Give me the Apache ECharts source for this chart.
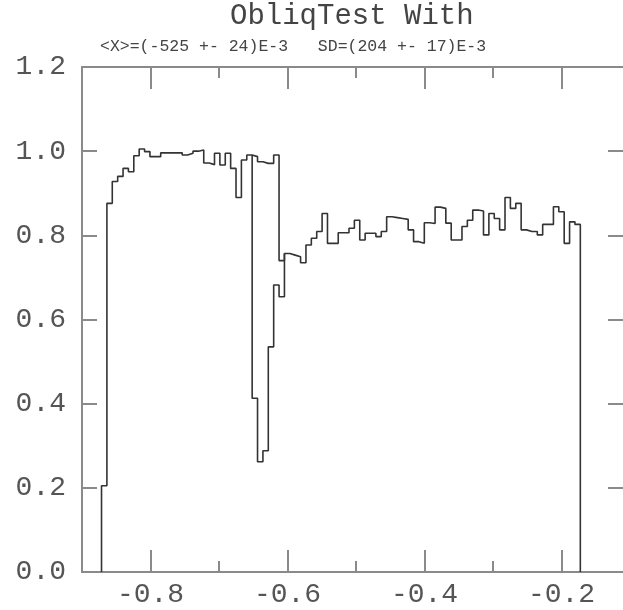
<!DOCTYPE html>
<html>
<head>
<meta charset="utf-8">
<script src="https://cdn.jsdelivr.net/npm/echarts@6/dist/echarts.min.js"></script>
<style>
html,body{margin:0;padding:0;background:#fff;}
#chart{width:623px;height:610px;}
</style>
</head>
<body>
<div id="chart"></div>
<script>
// ---- data ----
const titleText = 'ObliqTest With';
const subtitleText = '<X>=(-525 +- 24)E-3   SD=(204 +- 17)E-3';
const histLow = -0.8715;          // left edge of first bin
const binWidth = 0.007854;        // bin width
const binValues = [
  0.205, 0.876, 0.928, 0.940, 0.959, 0.951, 0.989, 1.005, 0.999, 0.987,
  0.987, 0.996, 0.996, 0.996, 0.996, 0.991, 0.995, 1.000, 1.003, 0.972,
  0.968, 0.995, 0.967, 0.995, 0.959, 0.890, 0.979, 0.991, 0.987, 0.975,
  0.971, 0.971, 0.991, 0.740, 0.757, 0.753, 0.749, 0.735, 0.777, 0.793,
  0.809, 0.852, 0.781, 0.781, 0.806, 0.806, 0.817, 0.836, 0.789, 0.805,
  0.805, 0.797, 0.809, 0.844, 0.842, 0.840, 0.838, 0.813, 0.785, 0.781,
  0.830, 0.828, 0.867, 0.864, 0.829, 0.789, 0.789, 0.821, 0.836, 0.860,
  0.858, 0.801, 0.852, 0.840, 0.813, 0.890, 0.864, 0.876, 0.813, 0.809,
  0.809, 0.801, 0.826, 0.826, 0.868, 0.856, 0.781, 0.832, 0.826
];
const dipFirstBin = 28;
const dipValues = [0.413, 0.262, 0.288, 0.535, 0.682, 0.654];
const xMajorTicks = [-0.8, -0.6, -0.4, -0.2];
const xMinorTicks = [-0.7, -0.5, -0.3];
const xRange = [-0.9, -0.1102];   // right frame sits at the picture's edge
const yRange = [0, 1.2];
const yStep = 0.2;

// ---- build step outlines from bins ----
function edge(k){ return histLow + k * binWidth; }
const mainPts = [[edge(0), 0]];
binValues.forEach((v, k) => { mainPts.push([edge(k), v], [edge(k + 1), v]); });
mainPts.push([edge(binValues.length), 0]);

const dipPts = [[edge(dipFirstBin), binValues[dipFirstBin - 1]]];
dipValues.forEach((v, i) => {
  const k = dipFirstBin + i;
  dipPts.push([edge(k), v], [edge(k + 1), v]);
});
dipPts.push([edge(dipFirstBin + dipValues.length), binValues[dipFirstBin + dipValues.length]]);

const frameColor = '#8a8a8a';
const labelFont = { fontFamily: 'Liberation Mono', fontSize: 28, color: '#555' };

function xAxisDef(pos, ticks, len, showLine, showLabel){
  return {
    type: 'value', position: pos, min: xRange[0], max: xRange[1],
    axisLine: { show: showLine, onZero: false, lineStyle: { color: frameColor, width: 2 } },
    axisTick: { show: true, inside: true, length: len, customValues: ticks,
                lineStyle: { color: frameColor, width: 2 } },
    axisLabel: Object.assign({ show: showLabel, customValues: ticks, margin: 9,
                formatter: v => v.toFixed(1) }, labelFont),
    splitLine: { show: false }
  };
}
function yAxisDef(pos, showLabel, showLine){
  return {
    type: 'value', position: pos, min: yRange[0], max: yRange[1], interval: yStep,
    axisLine: { show: showLine, onZero: false, lineStyle: { color: frameColor, width: 2 } },
    axisTick: { show: true, inside: true, length: 15, lineStyle: { color: frameColor, width: 2 } },
    axisLabel: Object.assign({ show: showLabel, margin: 16, formatter: v => v.toFixed(1) }, labelFont),
    splitLine: { show: false }
  };
}

const chart = echarts.init(document.getElementById('chart'), null, { renderer: 'canvas' });
chart.setOption({
  animation: false,
  backgroundColor: '#fff',
  title: [
    { text: titleText, left: 230, top: 2, padding: 0,
      textStyle: { fontFamily: 'Liberation Mono', fontSize: 29, fontWeight: 'normal', color: '#444' } },
    { text: subtitleText, left: 100, top: 38, padding: 0,
      textStyle: { fontFamily: 'Liberation Mono', fontSize: 16.5, fontWeight: 'normal', color: '#444' } }
  ],
  grid: { left: 82, top: 67, right: 0, height: 505, containLabel: false },
  xAxis: [
    xAxisDef('bottom', xMajorTicks, 22, true, true),
    xAxisDef('bottom', xMinorTicks, 11, false, false),
    xAxisDef('top', xMajorTicks, 22, true, false),
    xAxisDef('top', xMinorTicks, 11, false, false)
  ],
  yAxis: [ yAxisDef('left', true, true), yAxisDef('right', false, false) ],
  series: [
    { type: 'line', data: mainPts, xAxisIndex: 0, yAxisIndex: 0, showSymbol: false, silent: true,
      lineStyle: { color: '#333', width: 1.6 } },
    { type: 'line', data: dipPts, xAxisIndex: 0, yAxisIndex: 0, showSymbol: false, silent: true,
      lineStyle: { color: '#333', width: 1.6 } }
  ]
});
</script>
</body>
</html>
